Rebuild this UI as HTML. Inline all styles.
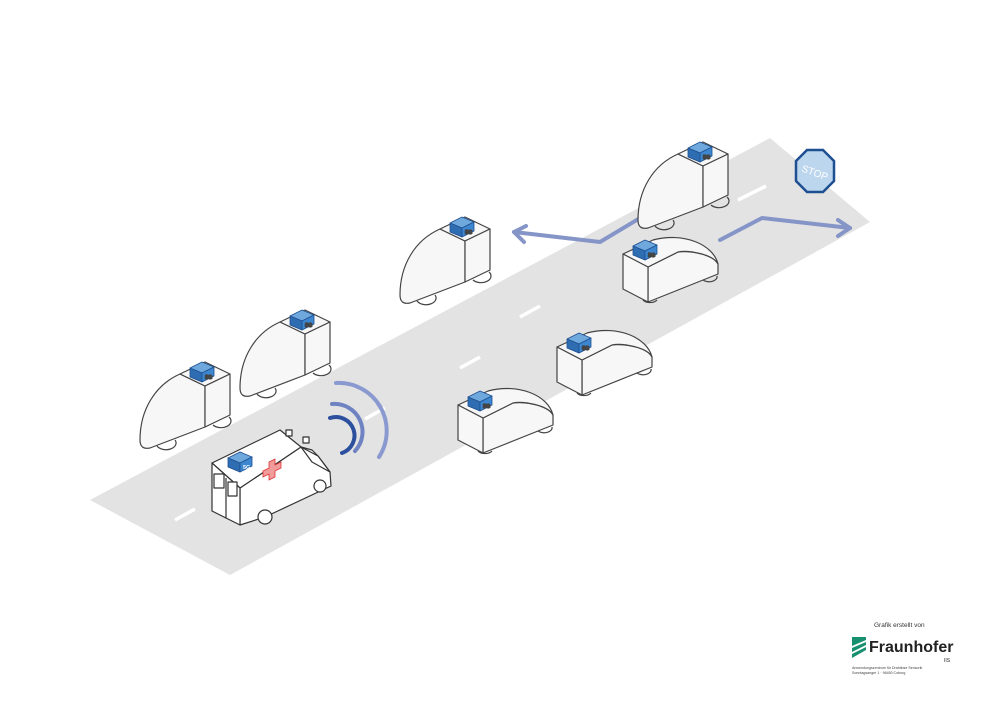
<!DOCTYPE html>
<html><head><meta charset="utf-8"><style>
html,body{margin:0;padding:0;background:#fff}
svg{display:block}
text{font-family:"Liberation Sans",sans-serif}
</style></head><body>
<svg width="1000" height="707" viewBox="0 0 1000 707">
<defs>
<g id="box5g">
<path d="M0,6 L12,0 L24,5 L12,11 Z" fill="#6fa8dc" stroke="#1d4f91" stroke-width="0.8"/>
<path d="M0,6 L12,11 L12,20 L0,15 Z" fill="#2f6db3" stroke="#1d4f91" stroke-width="0.8"/>
<path d="M12,11 L24,5 L24,14 L12,20 Z" fill="#3d86d0" stroke="#1d4f91" stroke-width="0.8"/>
<text x="15" y="17" font-size="5.5" fill="#fff" font-weight="bold">5G</text>
</g>
<g id="carA" fill="#f7f7f7" stroke="#444" stroke-width="1.2" stroke-linejoin="round">
<path d="M70,26 L45,14 C20,25 5,50 5,80 Q5,90 15,88 L70,67 Z"/>
<path d="M45,14 L70,2 L95,14 L70,26 Z"/>
<path d="M70,26 L95,14 L95,55 L70,67 Z"/>
<path d="M22,86 a9,6 0 0 0 18,-6" fill="none"/>
<path d="M78,65 a9,6 0 0 0 16,-8" fill="none"/>
<use href="#box5g" x="55" y="2"/>
</g>
<g id="carB" fill="#f7f7f7" stroke="#444" stroke-width="1.2" stroke-linejoin="round">
<path d="M25,35 L55,20 C65,18 90,22 95,32 L95,42 L25,70 Z"/>
<path d="M0,22 L30,8 C60,0 90,12 95,32 C90,22 65,18 55,20 L25,35 Z"/>
<path d="M0,22 L25,35 L25,70 L0,57 Z"/>
<path d="M20,68 a8,5 0 0 0 14,0" fill="none"/>
<path d="M80,48 a8,5 0 0 0 14,-4" fill="none"/>
<use href="#box5g" x="10" y="8"/>
</g>
</defs>
<!-- road -->
<polygon points="90,500 770,138 870,222 230,575" fill="#e3e3e3"/>
<!-- lane dashes -->
<g stroke="#fff" stroke-width="3.5">
<line x1="175" y1="520" x2="195" y2="509"/>
<line x1="270" y1="470" x2="290" y2="459"/>
<line x1="365" y1="419" x2="385" y2="408"/>
<line x1="460" y1="368" x2="480" y2="357"/>
<line x1="520" y1="317" x2="540" y2="306"/>
<line x1="645" y1="252" x2="665" y2="241"/>
<line x1="738" y1="200" x2="766" y2="186"/>
</g>
<!-- arrows -->
<g fill="none" stroke="#8595c8" stroke-width="4" stroke-linecap="round" stroke-linejoin="round">
<polyline points="640,218 600,242 514,232"/>
<polyline points="526,226 514,232 524,242"/>
<polyline points="720,240 762,218 850,228"/>
<polyline points="838,220 850,228 838,236"/>
</g>
<!-- stop sign -->
<polygon points="807,150 823,150 834,161 834,181 823,192 807,192 796,181 796,161" fill="#bcd6ee" stroke="#1d4f91" stroke-width="2.5"/>
<text x="815" y="176" font-size="10" fill="#fff" text-anchor="middle" transform="rotate(20 815 172)">STOP</text>
<!-- cars -->
<use href="#carA" x="135" y="360"/>
<use href="#carA" x="235" y="308"/>
<use href="#carA" x="395" y="215"/>
<use href="#carA" x="633" y="140"/>
<use href="#carB" x="623" y="232"/>
<use href="#carB" x="557" y="325"/>
<use href="#carB" x="458" y="383"/>
<!-- signal arcs -->
<g fill="none" stroke-linecap="round">
<path d="M330,418 a14,14 0 0 1 12,35" stroke="#2c4f9e" stroke-width="4"/>
<path d="M332,404 a28,28 0 0 1 23,47" stroke="#6f82c2" stroke-width="4"/>
<path d="M336,383 a48,48 0 0 1 43,74" stroke="#8a9ad0" stroke-width="4"/>
</g>
<!-- ambulance -->
<g fill="#fff" stroke="#333" stroke-width="1.2" stroke-linejoin="round">
<path d="M240,525 L240,488 L301,447 L312,450 L318,456 L330,472 L331,486 L265,517 Z"/>
<path d="M212,463 L280,430 L301,447 L240,488 Z"/>
<path d="M212,463 L240,488 L240,525 L212,511 Z"/>
<path d="M301,447 L318,456 L330,472 L312,462 Z"/>
<line x1="226" y1="478" x2="226" y2="518"/>
<rect x="214" y="474" width="10" height="14" fill="#fff"/>
<rect x="228" y="482" width="9" height="14" fill="#fff"/>
<ellipse cx="265" cy="517" rx="7" ry="7"/>
<ellipse cx="320" cy="486" rx="6" ry="6"/>
<rect x="286" y="430" width="6" height="6"/>
<rect x="303" y="437" width="6" height="6"/>
</g>
<path d="M263,471 l6,-3 v-6 l6,-3 v6 l6,-3 v6 l-6,3 v6 l-6,3 v-6 l-6,3 Z" fill="#f29b9b" stroke="#d33" stroke-width="0.8"/>
<use href="#box5g" x="228" y="452"/>
<!-- logo -->
<text x="874" y="627" font-size="6.5" fill="#333">Grafik erstellt von</text>
<g fill="#17906f">
<polygon points="852,637 866,637 866,640 852,646"/>
<polygon points="852,648 866,642 866,645 852,652"/>
<polygon points="852,654 866,647 866,650 852,658"/>
</g>
<text x="869" y="652" font-size="16" fill="#222" font-weight="bold">Fraunhofer</text>
<text x="944" y="662" font-size="5" fill="#222">IIS</text>
<text x="852" y="669" font-size="3.6" fill="#444">Anwendungszentrum für Drahtlose Sensorik</text>
<text x="852" y="674" font-size="3.6" fill="#444">Sonntagsanger 1 · 96450 Coburg</text>
</svg>
</body></html>
